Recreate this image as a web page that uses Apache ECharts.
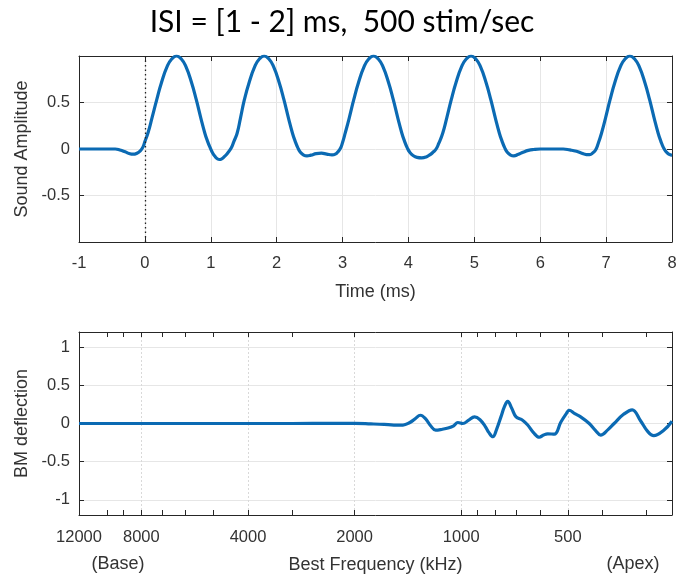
<!DOCTYPE html>
<html>
<head>
<meta charset="utf-8">
<script src="https://cdn.jsdelivr.net/npm/echarts@6/dist/echarts.min.js"></script>
<style>html,body{margin:0;padding:0;background:#fff;}#c{width:684px;height:578px;}</style>
</head>
<body>
<div id="c"></div>
<script>
// ---- Top panel: sound stimulus (time in ms, amplitude) ----
const timeMs = [
  -1, -0.6, -0.45, -0.38, -0.3, -0.24, -0.18, -0.12, -0.07, -0.03,
  0, 0.05, 0.11, 0.18, 0.25, 0.34, 0.41, 0.48, 0.55, 0.62,
  0.71, 0.78, 0.85, 0.91, 0.95, 0.99, 1.03, 1.07, 1.1, 1.13,
  1.16, 1.21, 1.26, 1.31, 1.35, 1.4, 1.45, 1.51, 1.58, 1.67,
  1.74, 1.81, 1.88, 1.95, 2.04, 2.11, 2.18, 2.24, 2.28, 2.32,
  2.36, 2.41, 2.46, 2.52, 2.6, 2.68, 2.76, 2.84, 2.89, 2.93,
  2.97, 3.0, 3.04, 3.1, 3.17, 3.24, 3.33, 3.4, 3.47, 3.54,
  3.61, 3.7, 3.77, 3.84, 3.9, 3.94, 3.98, 4.02, 4.07, 4.13,
  4.2, 4.27, 4.33, 4.38, 4.42, 4.46, 4.52, 4.58, 4.65, 4.72,
  4.81, 4.88, 4.95, 5.02, 5.09, 5.18, 5.25, 5.32, 5.38, 5.42,
  5.46, 5.5, 5.55, 5.6, 5.66, 5.74, 5.82, 5.9, 6.0, 6.35,
  6.45, 6.55, 6.63, 6.7, 6.75, 6.8, 6.84, 6.88, 6.93, 6.99,
  7.06, 7.13, 7.22, 7.29, 7.36, 7.43, 7.5, 7.59, 7.66, 7.73,
  7.79, 7.83, 7.87, 7.91, 7.95, 8.0
];
const soundAmp = [
  0, 0, 0, -0.01, -0.03, -0.048, -0.056, -0.045, -0.02, 0.02,
  0.08, 0.18, 0.34, 0.53, 0.71, 0.89, 0.97, 1.0, 0.97, 0.89,
  0.71, 0.53, 0.33, 0.17, 0.085, 0.015, -0.045, -0.085, -0.105, -0.113,
  -0.108, -0.08, -0.04, 0.01, 0.08, 0.17, 0.33, 0.53, 0.71, 0.89,
  0.97, 1.0, 0.97, 0.89, 0.71, 0.53, 0.33, 0.17, 0.085, 0.015,
  -0.035, -0.065, -0.074, -0.066, -0.05, -0.045, -0.055, -0.063, -0.055, -0.03,
  0.01, 0.07, 0.17, 0.33, 0.53, 0.71, 0.89, 0.97, 1.0, 0.97,
  0.89, 0.71, 0.53, 0.33, 0.17, 0.085, 0.015, -0.035, -0.07, -0.09,
  -0.095, -0.085, -0.06, -0.03, 0.0, 0.06, 0.17, 0.33, 0.53, 0.71,
  0.89, 0.97, 1.0, 0.97, 0.89, 0.71, 0.53, 0.33, 0.17, 0.085,
  0.015, -0.035, -0.065, -0.074, -0.06, -0.035, -0.015, -0.005, 0, 0,
  -0.01, -0.025, -0.045, -0.06, -0.06, -0.04, -0.01, 0.06, 0.17, 0.33,
  0.53, 0.71, 0.89, 0.97, 1.0, 0.97, 0.89, 0.71, 0.53, 0.33,
  0.17, 0.085, 0.015, -0.03, -0.055, -0.068
];
const stimOnset = 0;

// ---- Bottom panel: basilar membrane deflection ----
const bestFreq = [12000,6000,3000,2300,2000,1800,1650,1550,1460,1400,1350,1304,1260,1220,1181,1130,1090,1050,1022,989,955,917,885,855,835,814,795,772,755,739,720,700,671,649,625,602,585,570,546,523,505,496,478,460,435,418,404,385,370,348,329,312,298,286,268,254];
const bmDeflection = [0,0,0,0.003,0.002,-0.005,-0.012,-0.02,-0.02,0.01,0.06,0.108,0.06,-0.03,-0.087,-0.075,-0.06,-0.03,0.013,0,0.04,0.087,0.05,-0.04,-0.12,-0.174,-0.08,0.09,0.22,0.29,0.2,0.087,0.043,-0.02,-0.12,-0.18,-0.15,-0.135,-0.14,0.02,0.13,0.174,0.13,0.087,0,-0.09,-0.152,-0.08,0,0.12,0.18,0.04,-0.1,-0.16,-0.09,0.03];
const freqLabels = [12000,8000,4000,2000,1000,500];
const freqMinorTicks = [10000,9000,8000,7000,6000,5000,4000,3000,2000,1000,900,800,700,600,500,400,300];
const freqRange = [254, 12000];

const titleText = 'ISI = [1 - 2] ms,  500 stim/sec';

const L = v => Math.log10(v);
const FONT = '"Liberation Sans", Arial, sans-serif';
const AX = '#262626';
const TXT = '#333333';
const LINE = '#0b6ab3';

const tickCommon = {show: true, inside: true, length: 5, lineStyle: {color: AX, width: 1}};
const lineCommon = {show: true, onZero: false, lineStyle: {color: AX, width: 1}};
const labelCommon = {color: TXT, fontFamily: FONT, fontSize: 16.5, margin: 10};
const nameStyle = {color: TXT, fontFamily: FONT, fontSize: 18};

const chart = echarts.init(document.getElementById('c'), null, {renderer: 'canvas'});
const option = {
  animation: false,
  backgroundColor: '#ffffff',
  title: {
    text: titleText, left: 'center', top: 2,
    textStyle: {fontFamily: 'Lato, "Open Sans", sans-serif', fontSize: 30, fontWeight: 'normal', color: '#000'}
  },
  grid: [
    {left: 79, top: 56, width: 593, height: 186},
    {left: 79, top: 332, width: 593, height: 183}
  ],
  xAxis: [
    {gridIndex: 0, type: 'value', position: 'bottom', min: -1, max: 8, interval: 1,
      axisLine: lineCommon, axisTick: tickCommon,
      axisLabel: Object.assign({}, labelCommon, {margin: 13}),
      splitLine: {show: true, lineStyle: {color: '#e6e6e6', width: 1}},
      name: 'Time (ms)', nameLocation: 'middle', nameGap: 41, nameTextStyle: nameStyle},
    {gridIndex: 0, type: 'value', position: 'top', min: -1, max: 8, interval: 1,
      axisLine: lineCommon, axisTick: tickCommon, axisLabel: {show: false}, splitLine: {show: false}},
    {gridIndex: 1, type: 'value', position: 'bottom', inverse: true, min: L(freqRange[0]), max: L(freqRange[1]),
      axisLine: lineCommon,
      axisTick: Object.assign({}, tickCommon, {customValues: freqMinorTicks.map(L)}),
      axisLabel: Object.assign({}, labelCommon, {margin: 14, customValues: freqLabels.map(L),
        formatter: v => String(Math.round(Math.pow(10, v)))}),
      splitLine: {show: false},
      name: 'Best Frequency (kHz)', nameLocation: 'middle', nameGap: 41, nameTextStyle: nameStyle},
    {gridIndex: 1, type: 'value', position: 'top', inverse: true, min: L(freqRange[0]), max: L(freqRange[1]),
      axisLine: lineCommon,
      axisTick: Object.assign({}, tickCommon, {customValues: freqMinorTicks.map(L)}),
      axisLabel: {show: false}, splitLine: {show: false}},
    {gridIndex: 1, type: 'value', position: 'bottom', inverse: true, min: L(freqRange[0]), max: L(freqRange[1]),
      axisLine: {show: false},
      axisTick: {show: false, customValues: freqLabels.map(L)},
      axisLabel: {show: false},
      splitLine: {show: true, lineStyle: {color: '#d9d9d9', width: 1, type: [2, 2]}}}
  ],
  yAxis: [
    {gridIndex: 0, type: 'value', position: 'left', min: -1, max: 1,
      axisLine: lineCommon, axisTick: tickCommon,
      axisLabel: Object.assign({}, labelCommon, {margin: 9, formatter: v => (Math.abs(v) > 0.99 ? '' : String(v))}),
      splitLine: {show: true, lineStyle: {color: '#e6e6e6', width: 1}},
      name: 'Sound Amplitude', nameLocation: 'middle', nameGap: 43, nameTextStyle: nameStyle},
    {gridIndex: 0, type: 'value', position: 'right', min: -1, max: 1,
      axisLine: lineCommon, axisTick: tickCommon, axisLabel: {show: false}, splitLine: {show: false}},
    {gridIndex: 1, type: 'value', position: 'left', min: -1.2, max: 1.2,
      axisLine: lineCommon, axisTick: tickCommon,
      axisLabel: Object.assign({}, labelCommon, {margin: 9, formatter: v => (Math.abs(v) > 1.01 ? '' : String(v))}),
      splitLine: {show: true, lineStyle: {color: '#e6e6e6', width: 1}},
      name: 'BM deflection', nameLocation: 'middle', nameGap: 43, nameTextStyle: nameStyle},
    {gridIndex: 1, type: 'value', position: 'right', min: -1.2, max: 1.2,
      axisLine: lineCommon, axisTick: tickCommon, axisLabel: {show: false}, splitLine: {show: false}}
  ],
  graphic: [
    {type: 'text', x: 118, y: 564, style: {text: '(Base)', fill: TXT, font: '18px "Liberation Sans", Arial, sans-serif', align: 'center', verticalAlign: 'middle'}},
    {type: 'text', x: 633, y: 564, style: {text: '(Apex)', fill: TXT, font: '18px "Liberation Sans", Arial, sans-serif', align: 'center', verticalAlign: 'middle'}}
  ],
  series: [
    {type: 'line', xAxisIndex: 0, yAxisIndex: 0, smooth: 0.5, symbol: 'none',
      data: timeMs.map((t, i) => [t, soundAmp[i]]),
      lineStyle: {color: LINE, width: 3.2},
      markLine: {silent: true, symbol: 'none', label: {show: false},
        lineStyle: {color: '#222', width: 1.3, type: [1.5, 3]},
        data: [{xAxis: stimOnset}]}},
    {type: 'line', xAxisIndex: 2, yAxisIndex: 2, smooth: 0.4, symbol: 'none',
      data: bestFreq.map((f, i) => [L(f), bmDeflection[i]]),
      lineStyle: {color: LINE, width: 3.2}}
  ]
};
chart.setOption(option);
</script>
</body>
</html>
